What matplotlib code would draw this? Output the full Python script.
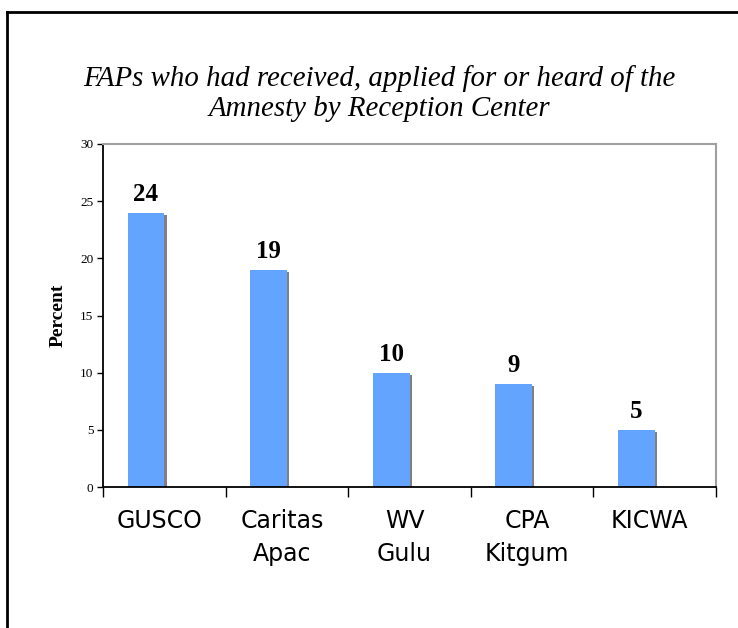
import numpy as np
import matplotlib.pyplot as plt
import matplotlib.transforms as mtransforms
from matplotlib.lines import Line2D

# Datos del grafico
centros = ['GUSCO', 'Caritas\nApac', 'WV\nGulu', 'CPA\nKitgum', 'KICWA']
porcentajes = [24, 19, 10, 9, 5]
titulo = ['FAPs who had received, applied for or heard of the',
          'Amnesty by Reception Center']

W, H = 738, 628
fig = plt.figure(figsize=(W / 100, H / 100), dpi=100)

# Marco exterior (solo arriba e izquierda visibles)
fig.add_artist(Line2D([7 / W, 7 / W], [0, 1 - 12 / H], transform=fig.transFigure, color='black', lw=2))
fig.add_artist(Line2D([7 / W, 1], [1 - 12 / H, 1 - 12 / H], transform=fig.transFigure, color='black', lw=2))

ax = fig.add_axes([103 / W, 141 / H, 613 / W, 343 / H])

x = np.arange(len(centros))
# sombra gris a la derecha de cada barra
ax.bar(x - 0.3 + 0.018, np.array(porcentajes) - 0.18, width=0.3, align='edge',
       color='#808080', zorder=1)
ax.bar(x - 0.3, porcentajes, width=0.3, align='edge', color='#62A4FF', zorder=2)

for xi, v in zip(x, porcentajes):
    ax.annotate(str(v), (xi - 0.15, v), xytext=(0, 5), textcoords='offset points',
                ha='center', va='bottom', fontsize=18, fontweight='bold',
                family='Liberation Serif')

ax.set_xlim(-0.5, len(centros) - 0.5)
ax.set_ylim(0, 30)
ax.set_yticks(np.arange(0, 31, 5))
ax.tick_params(axis='y', length=4, width=1, labelsize=9.5, pad=3)
for lab in ax.get_yticklabels():
    lab.set_family('Liberation Serif')

# ticks mayores en los limites de categoria, etiquetas como menores en el centro
ax.set_xticks(np.arange(-0.5, len(centros), 1.0))
ax.set_xticklabels([])
ax.set_xticks(x, minor=True)
ax.set_xticklabels(centros, minor=True, fontsize=17, family='DejaVu Sans', linespacing=1.45)
ax.tick_params(axis='x', which='major', length=7, width=1)
ax.tick_params(axis='x', which='minor', length=0, pad=16)
desplaza = mtransforms.ScaledTranslation(-5 / 100, 0, fig.dpi_scale_trans)
for lab in ax.get_xticklabels(minor=True):
    lab.set_transform(lab.get_transform() + desplaza)

ax.spines['left'].set_color('black')
ax.spines['bottom'].set_color('black')
ax.spines['left'].set_linewidth(1.3)
ax.spines['bottom'].set_linewidth(1.3)
ax.spines['top'].set_color('#A0A0A0')
ax.spines['right'].set_color('#A0A0A0')
ax.spines['top'].set_linewidth(1.5)
ax.spines['right'].set_linewidth(1.5)

fig.text(58 / W, 1 - 315 / H, 'Percent', rotation=90, ha='center', va='center',
         fontsize=14, fontweight='bold', family='Liberation Serif')

# titulo en dos lineas, cada una sobre su linea base
for linea, y_base in zip(titulo, [86, 116]):
    fig.text(379 / W, 1 - y_base / H, linea, ha='center', va='baseline', fontsize=20.8,
             style='italic', family='Liberation Serif')

plt.savefig('out.png', dpi=100)
